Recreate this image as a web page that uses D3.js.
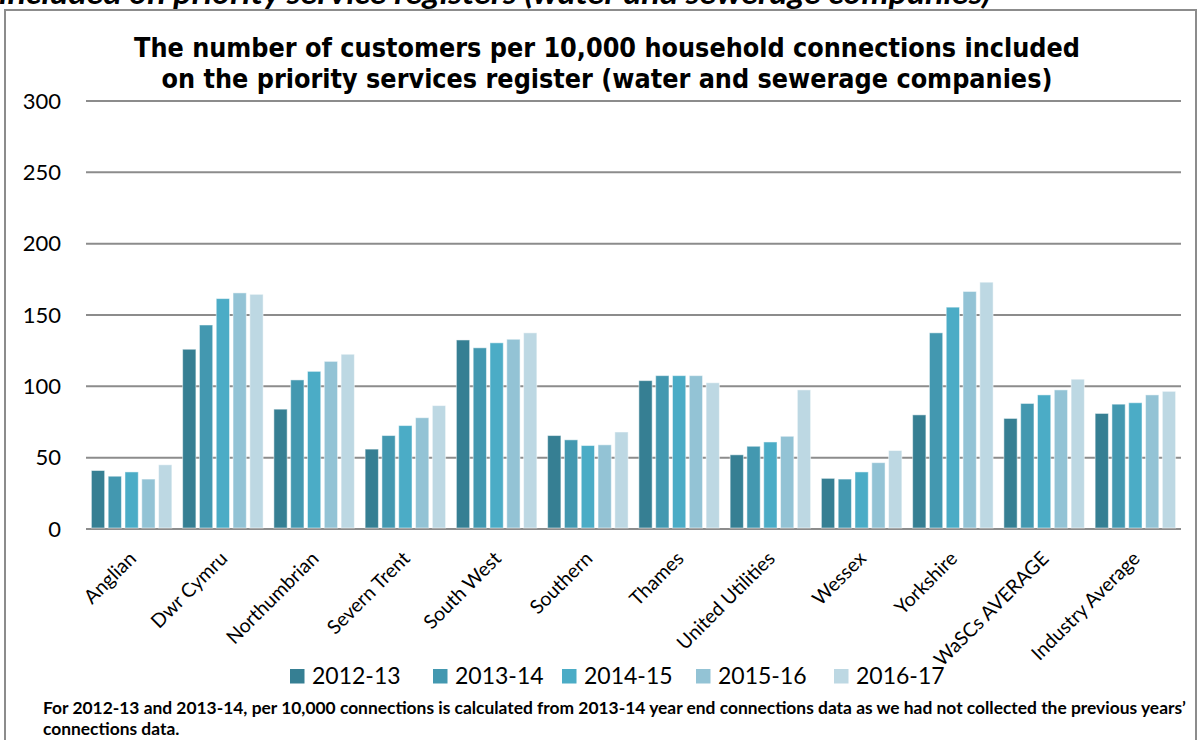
<!DOCTYPE html>
<html lang="en">
<head>
  <meta charset="UTF-8" />
  <title>Priority services register</title>
  <script src="https://d3js.org/d3.v7.min.js"></script>
  <style>
    body {
      margin: 0;
      padding: 0;
      background: #fff;
    }
    svg {
      display: block;
    }
    .grid line {
      stroke: #8c8c8c;
      stroke-width: 2px;
    }
    .ytick {
      font-family: Lato, sans-serif;
      font-size: 22px;
      fill: #000;
    }
    .xlabel {
      font-family: Lato, sans-serif;
      font-size: 19.5px;
      fill: #000;
    }
  </style>
</head>
<body>
  <svg width="1198" height="740"></svg>
  <script>
    const companies = ["Anglian", "Dwr Cymru", "Northumbrian", "Severn Trent", "South West",
      "Southern", "Thames", "United Utilities", "Wessex", "Yorkshire", "WaSCs AVERAGE", "Industry Average"];
    const years = ["2012-13", "2013-14", "2014-15", "2015-16", "2016-17"];
    const v2012 = [41, 126, 84, 56, 132.5, 65.5, 104, 52, 35.5, 80, 77.5, 81];
    const v2013 = [37, 143, 104.5, 65.5, 127, 62.5, 107.5, 58, 35, 137.5, 88, 87.5];
    const v2014 = [40, 161.5, 110.5, 72.5, 130.5, 58.5, 107.5, 61, 40, 155.5, 94, 88.5];
    const v2015 = [35, 165.5, 117.5, 78, 133, 59, 107.5, 65, 46.5, 166.5, 97.5, 94];
    const v2016 = [45, 164.5, 122.5, 86.5, 137.5, 68, 102.5, 97.5, 55, 173, 105, 96.5];
    const seriesValues = [v2012, v2013, v2014, v2015, v2016];
    const colors = ["#367f93", "#4398b0", "#4bacc6", "#93c3d5", "#bdd8e3"];
    const yTicks = [0, 50, 100, 150, 200, 250, 300];

    const svg = d3.select("svg");

    // outer chart frame (bottom edge runs off the page)
    svg.append("rect")
      .attr("x", 5).attr("y", 10)
      .attr("width", 1191).attr("height", 780)
      .attr("fill", "#fff")
      .attr("stroke", "#8c8c8c")
      .attr("stroke-width", 2);

    // heading of the page above, cut off by the crop
    svg.append("text")
      .attr("x", -1).attr("y", 4)
      .attr("textLength", 992)
      .attr("lengthAdjust", "spacingAndGlyphs")
      .style("font-family", "Lato, sans-serif")
      .style("font-weight", "bold")
      .style("font-style", "italic")
      .style("font-size", "30px")
      .text("included on priority service registers (water and sewerage companies)");

    const title = svg.append("text")
      .attr("x", 607)
      .attr("text-anchor", "middle")
      .style("font-family", "'DejaVu Sans Condensed', 'DejaVu Sans', sans-serif")
      .style("font-stretch", "condensed")
      .style("font-weight", "bold")
      .style("font-size", "26.7px");
    title.append("tspan").attr("x", 607).attr("y", 57)
      .text("The number of customers per 10,000 household connections included");
    title.append("tspan").attr("x", 607).attr("y", 88)
      .text("on the priority services register (water and sewerage companies)");

    const x0 = d3.scaleBand()
      .domain(companies)
      .range([86, 1181])
      .paddingInner(0.118)
      .paddingOuter(0.059);

    const x1 = d3.scaleBand()
      .domain(years)
      .range([0, x0.bandwidth()])
      .paddingInner(0.21);

    const y = d3.scaleLinear()
      .domain([0, 300])
      .range([529, 101]);

    // gridlines
    svg.append("g").attr("class", "grid")
      .selectAll("line")
      .data(yTicks)
      .join("line")
      .attr("x1", 86).attr("x2", 1181)
      .attr("y1", d => y(d)).attr("y2", d => y(d));

    // y tick labels
    svg.append("g")
      .selectAll("text")
      .data(yTicks)
      .join("text")
      .attr("class", "ytick")
      .attr("x", 61)
      .attr("y", d => y(d))
      .attr("dy", "0.35em")
      .attr("text-anchor", "end")
      .text(d => d);

    // bars
    const groups = svg.append("g")
      .selectAll("g")
      .data(companies)
      .join("g")
      .attr("transform", d => `translate(${x0(d)},0)`);

    groups.selectAll("rect")
      .data((c, i) => years.map((yr, k) => ({ yr, k, v: seriesValues[k][i] })))
      .join("rect")
      .attr("x", d => x1(d.yr))
      .attr("y", d => y(d.v))
      .attr("width", x1.bandwidth())
      .attr("height", d => y(0) - y(d.v) - 1)
      .attr("fill", d => colors[d.k])
      .attr("stroke", "#fff")
      .attr("stroke-opacity", 0.5)
      .attr("stroke-width", 1);

    // rotated category labels
    svg.append("g")
      .selectAll("text")
      .data(companies)
      .join("text")
      .attr("class", "xlabel")
      .attr("text-anchor", "end")
      .attr("dominant-baseline", "hanging")
      .attr("transform", d => `translate(${x0(d) + x0.bandwidth() / 2 - 5},549) rotate(-45)`)
      .text(d => d);

    // legend
    const legendX = [290, 433, 562, 696, 834];
    const legend = svg.append("g")
      .selectAll("g")
      .data(years)
      .join("g")
      .attr("transform", (d, i) => `translate(${legendX[i]},669)`);
    legend.append("rect")
      .attr("width", 14.5).attr("height", 14.5)
      .attr("fill", (d, i) => colors[i]);
    legend.append("text")
      .attr("x", 22).attr("y", 15)
      .style("font-family", "Lato, sans-serif")
      .style("font-size", "23px")
      .text(d => d);

    // footnote
    const note = svg.append("text")
      .style("font-family", "Lato, sans-serif")
      .style("font-weight", "bold")
      .style("font-size", "17.4px");
    note.append("tspan").attr("x", 43).attr("y", 714)
      .text("For 2012-13 and 2013-14, per 10,000 connections is calculated from 2013-14 year end connections data as we had not collected the previous years\u2019");
    note.append("tspan").attr("x", 43).attr("y", 735)
      .text("connections data.");
  </script>
</body>
</html>
